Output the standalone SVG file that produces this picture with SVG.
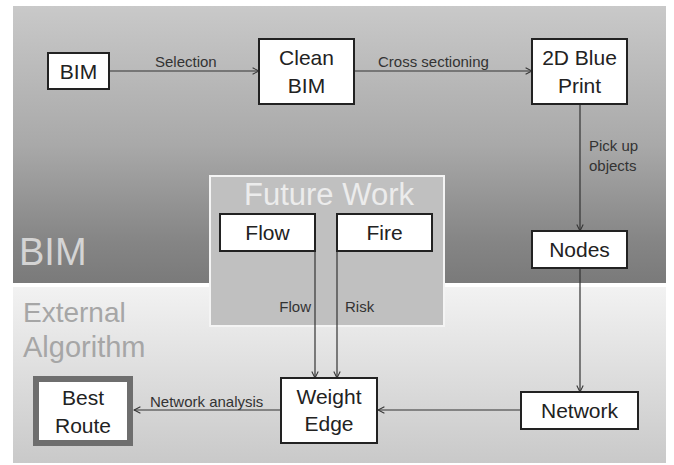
<svg xmlns="http://www.w3.org/2000/svg" width="674" height="465" viewBox="0 0 674 465">
<defs>
<linearGradient id="gBim" x1="0" y1="0" x2="0" y2="1">
<stop offset="0" stop-color="#c9c9c9"/>
<stop offset="0.5" stop-color="#a9a9a9"/>
<stop offset="0.85" stop-color="#858585"/>
<stop offset="1" stop-color="#7a7a7a"/>
</linearGradient>
<linearGradient id="gExt" x1="0" y1="0" x2="0" y2="1">
<stop offset="0" stop-color="#f2f2f2"/>
<stop offset="1" stop-color="#c9c9c9"/>
</linearGradient>
<marker id="arr" viewBox="0 0 10 10" refX="9" refY="5" markerWidth="8" markerHeight="8" markerUnits="userSpaceOnUse" orient="auto">
<path d="M1,1 L9,5 L1,9" fill="none" stroke="#333" stroke-width="1.3"/>
</marker>
</defs>
<style>
.box{fill:#fff;stroke:#222;stroke-width:2}
.nt{font-family:"Liberation Sans",Arial,sans-serif;font-size:21px;fill:#222;text-anchor:middle}
.lbl{font-family:"Liberation Sans",Arial,sans-serif;font-size:15px;fill:#333}
.ln{stroke:#333;stroke-width:1.2;fill:none;marker-end:url(#arr)}
.big{font-family:"Liberation Sans",Arial,sans-serif}
</style>
<rect width="674" height="465" fill="#fff"/>
<g id="panel-bim">
<rect x="13" y="6" width="653" height="277" fill="url(#gBim)"/>
<text class="big" x="19" y="265" font-size="38" fill="#d4d4d4">BIM</text>
</g>
<g id="panel-external">
<rect x="13" y="287" width="653" height="176" fill="url(#gExt)"/>
<text class="big" x="23" y="322" font-size="28" fill="#a6a6a6">External</text>
<text class="big" x="23" y="357" font-size="29" fill="#a6a6a6">Algorithm</text>
</g>
<g id="future-work">
<rect x="210" y="176" width="234" height="150" fill="#c0c0c0" stroke="#f4f4f4" stroke-width="2"/>
<text class="big" x="329" y="205" font-size="31" fill="#ececec" text-anchor="middle">Future Work</text>
</g>
<g id="connectors">
<line class="ln" x1="110" y1="71" x2="259" y2="71"/>
<line class="ln" x1="354" y1="71" x2="532" y2="71"/>
<line class="ln" x1="580" y1="104" x2="580" y2="231"/>
<line class="ln" x1="580" y1="268" x2="580" y2="392"/>
<line class="ln" x1="521" y1="410" x2="378" y2="410"/>
<line class="ln" x1="281" y1="410" x2="134" y2="410"/>
<line class="ln" x1="315" y1="251" x2="315" y2="378"/>
<line class="ln" x1="337" y1="251" x2="337" y2="378"/>
<text class="lbl" x="155" y="67">Selection</text>
<text class="lbl" x="378" y="67">Cross sectioning</text>
<text class="lbl" x="589" y="151">Pick up</text>
<text class="lbl" x="589" y="171">objects</text>
<text class="lbl" x="311" y="312" text-anchor="end">Flow</text>
<text class="lbl" x="345" y="312">Risk</text>
<text class="lbl" x="150" y="407">Network analysis</text>
</g>
<g id="node-bim">
<rect class="box" x="48" y="53" width="61" height="36"/>
<text class="nt" x="78.5" y="79" font-size="20">BIM</text>
</g>
<g id="node-clean-bim">
<rect class="box" x="259" y="39" width="95" height="65"/>
<text class="nt" x="306.5" y="65">Clean</text>
<text class="nt" x="306.5" y="93">BIM</text>
</g>
<g id="node-blueprint">
<rect class="box" x="532" y="39" width="95" height="65"/>
<text class="nt" x="579.5" y="65">2D Blue</text>
<text class="nt" x="579.5" y="93">Print</text>
</g>
<g id="node-nodes">
<rect class="box" x="532" y="231" width="95" height="37"/>
<text class="nt" x="579.5" y="257">Nodes</text>
</g>
<g id="node-network">
<rect class="box" x="521" y="392" width="117" height="37"/>
<text class="nt" x="579.5" y="418">Network</text>
</g>
<g id="node-weight-edge">
<rect class="box" x="281" y="378" width="96" height="65"/>
<text class="nt" x="329" y="404">Weight</text>
<text class="nt" x="329" y="431">Edge</text>
</g>
<g id="node-best-route">
<rect x="36" y="379" width="94" height="64" fill="#fff" stroke="#6e6e6e" stroke-width="6"/>
<text class="nt" x="83" y="405">Best</text>
<text class="nt" x="83" y="433">Route</text>
</g>
<g id="node-flow">
<rect class="box" x="220" y="214" width="95" height="37"/>
<text class="nt" x="267.5" y="240">Flow</text>
</g>
<g id="node-fire">
<rect class="box" x="337" y="214" width="95" height="37"/>
<text class="nt" x="384.5" y="240">Fire</text>
</g>
</svg>
